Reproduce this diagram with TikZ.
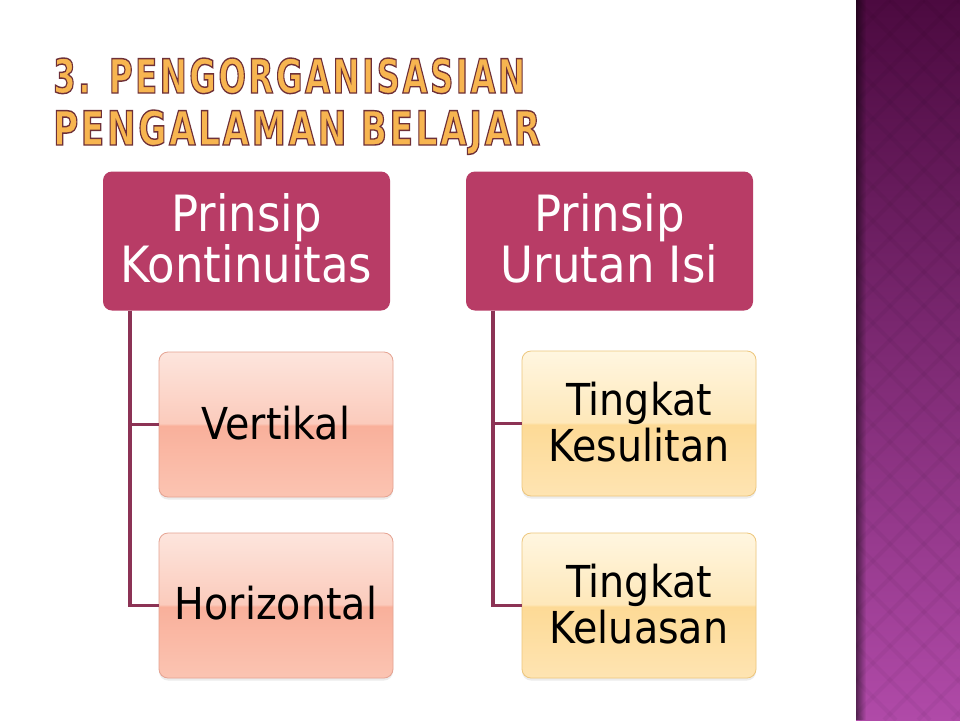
\documentclass[tikz,border=0pt]{standalone}
\usepackage{fontspec}
\setmainfont{DejaVu Sans Condensed}
\newfontfamily\titfont{DejaVu Sans Condensed Bold}[FakeBold=3, LetterSpace=7]
\usetikzlibrary{shadows,calc}
\definecolor{headc}{HTML}{B83C66}
\definecolor{connc}{HTML}{8C3355}
\definecolor{pT}{HTML}{FDE5DD}
\definecolor{pU}{HTML}{FBCBBC}
\definecolor{pL}{HTML}{F9B09B}
\definecolor{pB}{HTML}{FBC4B2}
\definecolor{pinkedge}{HTML}{E5A392}
\definecolor{yT}{HTML}{FFF6E0}
\definecolor{yU}{HTML}{FEE8BA}
\definecolor{yL}{HTML}{FDDA96}
\definecolor{yB}{HTML}{FEE4B2}
\definecolor{yeledge}{HTML}{EDC67C}
\definecolor{strtop}{HTML}{4C0A40}
\definecolor{strbot}{HTML}{B04AA8}
\definecolor{titfill}{HTML}{F7B550}
\pgfdeclareverticalshading{pinkgloss}{100bp}{color(0bp)=(pB); color(25bp)=(pB); color(49.6bp)=(pL); color(50.4bp)=(pU); color(75bp)=(pT); color(100bp)=(pT)}
\pgfdeclareverticalshading{yelgloss}{100bp}{color(0bp)=(yB); color(25bp)=(yB); color(49.6bp)=(yL); color(50.4bp)=(yU); color(75bp)=(yT); color(100bp)=(yT)}
\newcommand{\strokeon}{\special{pdf:literal direct 0.431 0.188 0.22 RG}}
\newcommand{\titA}{\resizebox{472pt}{35pt}{\titfont\strokeon 3. PENGORGANISASIAN}}
\newcommand{\titB}{\resizebox{487pt}{35pt}{\titfont\strokeon PENGALAMAN BELAJAR}}
\begin{document}
\begin{tikzpicture}[x=1pt,y=-1pt,
  headbox/.style={rectangle, rounded corners=9pt, fill=headc, text=white,
    font=\fontsize{50}{52}\selectfont, align=center, inner sep=0pt,
    minimum width=287pt, minimum height=139pt},
  childbox/.style={rectangle, rounded corners=9pt, text=black,
    font=\fontsize{44}{48}\selectfont, align=center, inner sep=0pt,
    minimum width=234pt, minimum height=145pt, line width=0.8pt,
    drop shadow={opacity=0.15, shadow xshift=0pt, shadow yshift=-2.5pt}},
  pinkbox/.style={childbox, shade, shading=pinkgloss, draw=pinkedge},
  yelbox/.style={childbox, shade, shading=yelgloss, draw=yeledge},
  conn/.style={draw=connc, line width=3.5pt},
  tit/.style={anchor=base west, inner sep=0pt}]
\useasboundingbox (0,0) rectangle (960,720);
\fill[white] (0,0) rectangle (960,720);
% right strip
\shade[top color=strtop, bottom color=strbot] (856,0) rectangle (960,720);
\begin{scope}
  \clip (856,0) rectangle (960,720);
  \foreach \k in {-24,...,24} {
    \draw[black, opacity=0.035, line width=4pt] (856+\k*34,0) -- ++(720,720);
    \draw[black, opacity=0.035, line width=4pt] (856+\k*34,0) -- ++(-720,720);
  }
  \foreach \i in {0,...,9} {
    \fill[black, opacity={0.05*(10-\i)}] (856+\i,0) rectangle ++(1,720);
  }
\end{scope}
% title
\node[tit, text=titfill] (t1) at (53,93) {\titA};
\node[tit, text=titfill] (t2) at (53,145) {\titB};
% head boxes
\node[headbox] (kL) at (246.5,241) {\raisebox{6pt}{\shortstack{Prinsip\\Kontinuitas}}};
\node[headbox] (kR) at (609.5,241) {\raisebox{6pt}{\shortstack{Prinsip\\Urutan Isi}}};
% child boxes
\node[pinkbox] (v) at (276,424.5) {\raisebox{4pt}{Vertikal}};
\node[pinkbox] (h) at (276,605.5) {\raisebox{5pt}{Horizontal}};
\node[yelbox] (ts) at (639,423.5) {\raisebox{4pt}{\shortstack{Tingkat\\Kesulitan}}};
\node[yelbox] (tl) at (639,605.5) {\raisebox{4pt}{\shortstack{Tingkat\\Keluasan}}};
% connectors
\coordinate (jL) at ([xshift=27pt]kL.south west);
\coordinate (jR) at ([xshift=27pt]kR.south west);
\draw[conn] (jL) |- (v.west);
\draw[conn] (jL) |- (h.west);
\draw[conn] (jR) |- (ts.west);
\draw[conn] (jR) |- (tl.west);
\end{tikzpicture}
\end{document}
